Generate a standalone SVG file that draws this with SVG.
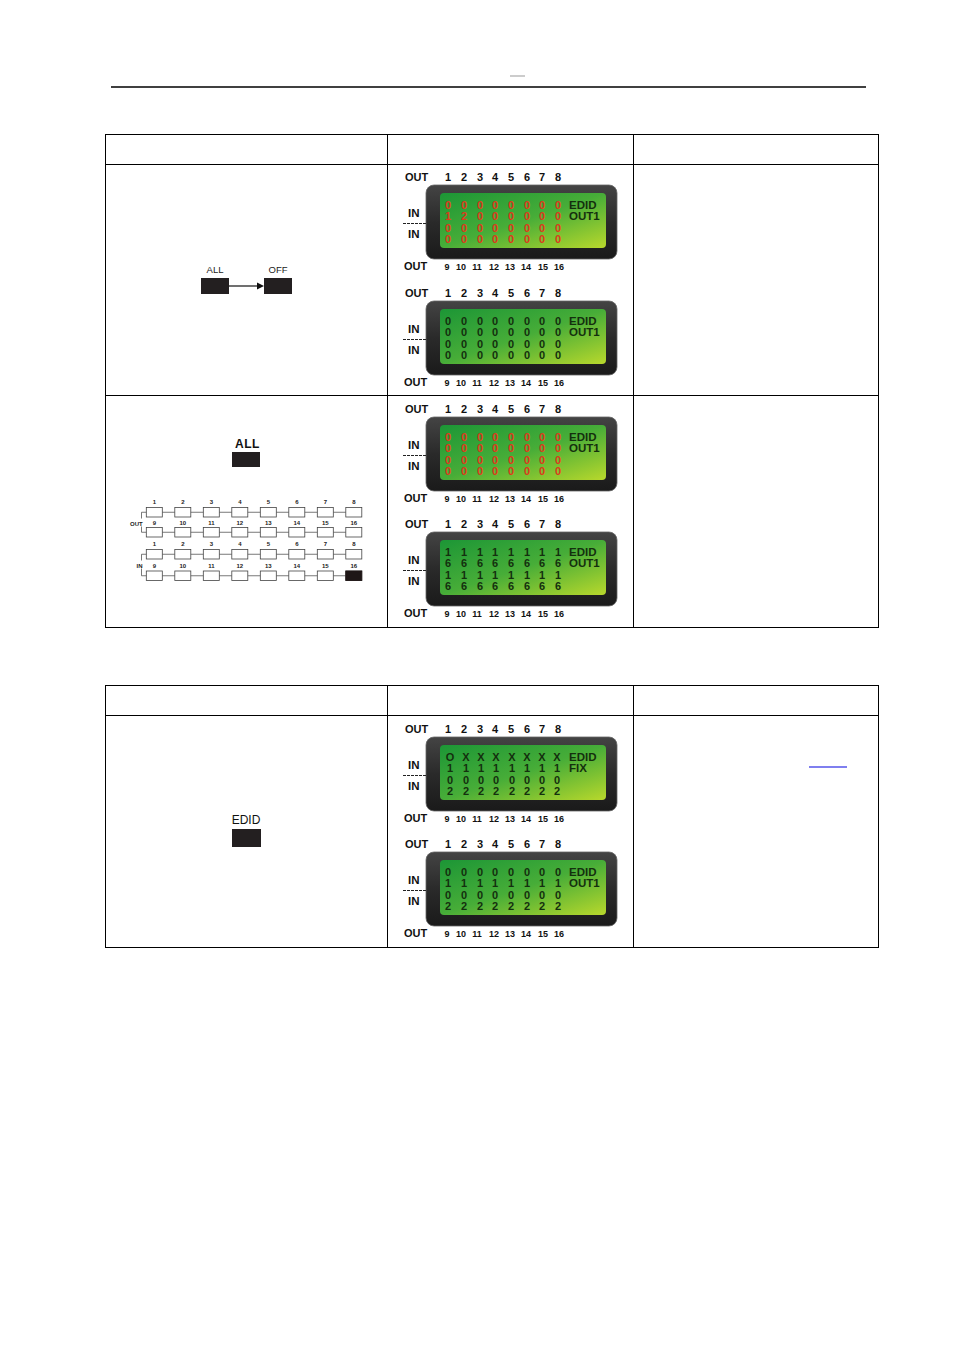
<svg xmlns="http://www.w3.org/2000/svg" xmlns:xlink="http://www.w3.org/1999/xlink" width="954" height="1350" viewBox="0 0 954 1350">
<style>
.t{font-family:"Liberation Sans",Arial,sans-serif;}
.b{font-family:"Liberation Sans",Arial,sans-serif;font-weight:bold;fill:#111;}
.lbl{font-size:11px;}
.top{font-size:11px;text-anchor:middle;}
.bot{font-size:9px;text-anchor:middle;}
.d{font-family:"Liberation Sans",Arial,sans-serif;font-weight:bold;font-size:11px;text-anchor:middle;}
.red{fill:#dc3a1c;}
.dk{fill:#14300e;}
.ed{font-family:"Liberation Sans",Arial,sans-serif;font-weight:bold;font-size:11.5px;fill:#14300e;}
.cell{fill:none;stroke:#000;stroke-width:1;}
.btn{fill:#231f20;}
.sb{fill:#fff;stroke:#444;stroke-width:0.8;}
.cn{stroke:#555;stroke-width:0.8;fill:none;}
.sn{font-family:"Liberation Sans",Arial,sans-serif;font-weight:bold;font-size:6px;text-anchor:middle;fill:#222;}
</style>
<defs>
<linearGradient id="bez" x1="0" y1="0" x2="0" y2="1">
<stop offset="0" stop-color="#444"/>
<stop offset="0.5" stop-color="#2a2a2a"/>
<stop offset="1" stop-color="#1a1a1a"/>
</linearGradient>
<linearGradient id="scr" x1="0" y1="0" x2="1" y2="1">
<stop offset="0" stop-color="#1c9636"/>
<stop offset="0.5" stop-color="#47ad38"/>
<stop offset="1" stop-color="#b8d82c"/>
</linearGradient>
<g id="lcd">
<text class="b lbl" x="405" y="181">OUT</text>
<text class="b top" x="448 464 480 495 511 527 542 558" y="181">12345678</text>
<rect x="426" y="185" width="191" height="74" rx="8" fill="url(#bez)" stroke="#666" stroke-width="0.8"/>
<rect x="440" y="193" width="166" height="55" rx="4" fill="url(#scr)"/>
<text class="b" style="font-size:11.5px" x="408" y="217">IN</text>
<text class="b" style="font-size:11.5px" x="408" y="237.5">IN</text>
<line x1="403" y1="223.5" x2="426" y2="223.5" stroke="#222" stroke-width="1" stroke-dasharray="3,1"/>
<text class="b lbl" x="404" y="270">OUT</text>
<text class="b bot" y="270"><tspan x="447">9</tspan><tspan x="461">10</tspan><tspan x="477">11</tspan><tspan x="494">12</tspan><tspan x="510">13</tspan><tspan x="526">14</tspan><tspan x="543">15</tspan><tspan x="559">16</tspan></text>
</g>
<g id="srow">
<rect class="sb" x="146.3" y="0" width="16" height="9.5"/>
<rect class="sb" x="174.8" y="0" width="16" height="9.5"/>
<rect class="sb" x="203.3" y="0" width="16" height="9.5"/>
<rect class="sb" x="231.8" y="0" width="16" height="9.5"/>
<rect class="sb" x="260.3" y="0" width="16" height="9.5"/>
<rect class="sb" x="288.8" y="0" width="16" height="9.5"/>
<rect class="sb" x="317.3" y="0" width="16" height="9.5"/>
<rect class="sb" x="345.8" y="0" width="16" height="9.5"/>
<path class="cn" d="M162.3 4.75H174.8M190.8 4.75H203.3M219.3 4.75H231.8M247.8 4.75H260.3M276.3 4.75H288.8M304.8 4.75H317.3M333.3 4.75H345.8"/>
</g>
</defs>

<g id="page-header">
<line x1="510" y1="76" x2="525" y2="76" stroke="#999" stroke-width="1"/>
<line x1="111" y1="87" x2="866" y2="87" stroke="#000" stroke-width="1.3"/>
</g>

<g id="table-1">
<rect class="cell" x="105.5" y="134.5" width="773" height="493"/>
<line class="cell" x1="105.5" y1="164.5" x2="878.5" y2="164.5"/>
<line class="cell" x1="105.5" y1="395.5" x2="878.5" y2="395.5"/>
<line class="cell" x1="387.5" y1="134.5" x2="387.5" y2="627.5"/>
<line class="cell" x1="633.5" y1="134.5" x2="633.5" y2="627.5"/>
</g>

<g id="table-2">
<rect class="cell" x="105.5" y="685.5" width="773" height="262"/>
<line class="cell" x1="105.5" y1="715.5" x2="878.5" y2="715.5"/>
<line class="cell" x1="387.5" y1="685.5" x2="387.5" y2="947.5"/>
<line class="cell" x1="633.5" y1="685.5" x2="633.5" y2="947.5"/>
</g>

<g id="all-off-buttons">
<text class="t" x="215" y="273" font-size="9.5" text-anchor="middle" fill="#222">ALL</text>
<text class="t" x="278" y="273" font-size="9.5" text-anchor="middle" fill="#222">OFF</text>
<rect class="btn" x="201" y="278" width="28" height="16"/>
<rect class="btn" x="264" y="278" width="28" height="16"/>
</g>
<g id="connectors">
<line x1="229" y1="286" x2="258" y2="286" stroke="#111" stroke-width="1.2"/>
<polygon points="257,282.5 264,286 257,289.5" fill="#111"/>
</g>

<g id="all-button">
<text class="t" x="247.5" y="448" font-size="12" font-weight="bold" text-anchor="middle" letter-spacing="0.5" fill="#111">ALL</text>
<rect class="btn" x="232" y="452" width="28" height="15"/>
</g>

<g id="switch-grid">
<use xlink:href="#srow" transform="translate(0,507.5)"/>
<use xlink:href="#srow" transform="translate(0,527.5)"/>
<use xlink:href="#srow" transform="translate(0,549.5)"/>
<use xlink:href="#srow" transform="translate(0,571)"/>
<rect x="345.8" y="571" width="16" height="9.5" fill="#1e1616" stroke="#1e1616" stroke-width="0.8"/>
<path class="cn" d="M146.3 512.25H141.5V518.5M141.5 526.5V532.25H146.3M146.3 554.25H141.5V560.5M141.5 568.5V575.75H146.3"/>
<text class="sn" y="504" x="154.3 182.8 211.3 239.8 268.3 296.8 325.3 353.8">12345678</text>
<text class="sn" y="524.5"><tspan x="154.3">9</tspan><tspan x="182.8">10</tspan><tspan x="211.3">11</tspan><tspan x="239.8">12</tspan><tspan x="268.3">13</tspan><tspan x="296.8">14</tspan><tspan x="325.3">15</tspan><tspan x="353.8">16</tspan></text>
<text class="sn" y="546" x="154.3 182.8 211.3 239.8 268.3 296.8 325.3 353.8">12345678</text>
<text class="sn" y="567.5"><tspan x="154.3">9</tspan><tspan x="182.8">10</tspan><tspan x="211.3">11</tspan><tspan x="239.8">12</tspan><tspan x="268.3">13</tspan><tspan x="296.8">14</tspan><tspan x="325.3">15</tspan><tspan x="353.8">16</tspan></text>
<text class="sn" x="130" y="525.5" style="text-anchor:start">OUT</text>
<text class="sn" x="136.5" y="567.5" style="text-anchor:start">IN</text>
</g>

<g id="edid-button">
<text class="t" x="246" y="824" font-size="12" text-anchor="middle" fill="#111">EDID</text>
<rect class="btn" x="232" y="829" width="29" height="18"/>
</g>

<g id="panel-1">
<use xlink:href="#lcd"/>
<text class="d red" x="448 464 480 495 511 527 542 558" y="209">00000000</text>
<text class="d red" x="448 464 480 495 511 527 542 558" y="220">12000000</text>
<text class="d red" x="448 464 480 495 511 527 542 558" y="231.5">00000000</text>
<text class="d red" x="448 464 480 495 511 527 542 558" y="243">00000000</text>
<text class="ed" x="569" y="209">EDID</text>
<text class="ed" x="569" y="220">OUT1</text>
</g>

<g id="panel-2" transform="translate(0,116)">
<use xlink:href="#lcd"/>
<text class="d dk" x="448 464 480 495 511 527 542 558" y="209">00000000</text>
<text class="d dk" x="448 464 480 495 511 527 542 558" y="220">00000000</text>
<text class="d dk" x="448 464 480 495 511 527 542 558" y="231.5">00000000</text>
<text class="d dk" x="448 464 480 495 511 527 542 558" y="243">00000000</text>
<text class="ed" x="569" y="209">EDID</text>
<text class="ed" x="569" y="220">OUT1</text>
</g>

<g id="panel-3" transform="translate(0,232)">
<use xlink:href="#lcd"/>
<text class="d red" x="448 464 480 495 511 527 542 558" y="209">00000000</text>
<text class="d red" x="448 464 480 495 511 527 542 558" y="220">00000000</text>
<text class="d red" x="448 464 480 495 511 527 542 558" y="231.5">00000000</text>
<text class="d red" x="448 464 480 495 511 527 542 558" y="243">00000000</text>
<text class="ed" x="569" y="209">EDID</text>
<text class="ed" x="569" y="220">OUT1</text>
</g>

<g id="panel-4" transform="translate(0,347)">
<use xlink:href="#lcd"/>
<text class="d dk" x="448 464 480 495 511 527 542 558" y="209">11111111</text>
<text class="d dk" x="448 464 480 495 511 527 542 558" y="220">66666666</text>
<text class="d dk" x="448 464 480 495 511 527 542 558" y="231.5">11111111</text>
<text class="d dk" x="448 464 480 495 511 527 542 558" y="243">66666666</text>
<text class="ed" x="569" y="209">EDID</text>
<text class="ed" x="569" y="220">OUT1</text>
</g>

<g id="panel-5" transform="translate(0,552)">
<use xlink:href="#lcd"/>
<text class="d dk" x="450 466 481 496 512 527 542 557" y="209">OXXXXXXX</text>
<text class="d dk" x="450 466 481 496 512 527 542 557" y="220">11111111</text>
<text class="d dk" x="450 466 481 496 512 527 542 557" y="231.5">00000000</text>
<text class="d dk" x="450 466 481 496 512 527 542 557" y="243">22222222</text>
<text class="ed" x="569" y="209">EDID</text>
<text class="ed" x="569" y="220">FIX</text>
</g>

<g id="panel-6" transform="translate(0,667)">
<use xlink:href="#lcd"/>
<text class="d dk" x="448 464 480 495 511 527 542 558" y="209">00000000</text>
<text class="d dk" x="448 464 480 495 511 527 542 558" y="220">11111111</text>
<text class="d dk" x="448 464 480 495 511 527 542 558" y="231.5">00000000</text>
<text class="d dk" x="448 464 480 495 511 527 542 558" y="243">22222222</text>
<text class="ed" x="569" y="209">EDID</text>
<text class="ed" x="569" y="220">OUT1</text>
</g>

<g id="note-underline">
<line x1="809" y1="767" x2="847" y2="767" stroke="#0000e0" stroke-width="1.2"/>
</g>
</svg>
